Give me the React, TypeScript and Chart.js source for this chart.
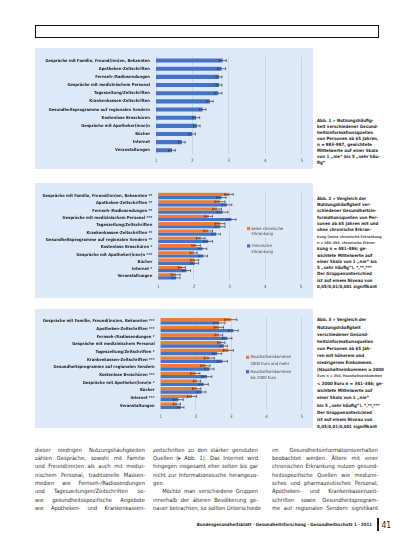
import React, { useEffect, useRef } from "react";
import { Chart, registerables } from "chart.js";

Chart.register(...registerables);

const FONT = "'Liberation Sans Narrow', 'DejaVu Sans Condensed', 'Liberation Sans', sans-serif";
const PANEL_BG = "#dde9f7";
const GRID = "#c3cfdd";
const BLUE = "#4472c4";
const ORANGE = "#ed7d31";

// ---------- data ----------
const sources = [
  "Gespräche mit Familie, Freund(inn)en, Bekannten",
  "Apotheken-Zeitschriften",
  "Fernseh-/Radiosendungen",
  "Gespräche mit medizinischem Personal",
  "Tageszeitung/Zeitschriften",
  "Krankenkassen-Zeitschriften",
  "Gesundheitsprogramme auf regionalen Sendern",
  "Kostenlose Broschüren",
  "Gespräche mit Apotheker(inne)n",
  "Bücher",
  "Internet",
  "Veranstaltungen",
];
const starsChronic = ["**", "**", "**", "***", "", "**", "**", "*", "***", "", "*", ""];
const starsIncome = ["***", "***", "*", "", "*", "***", "", "***", "*", "", "***", ""];

const xTicks = [1, 2, 3, 4, 5];

// Abb. 1 – all persons 65+
const allMean = [2.83, 2.8, 2.73, 2.73, 2.71, 2.48, 2.28, 2.1, 2.12, 1.99, 1.71, 1.44];
const allErr = [0.1, 0.11, 0.08, 0.08, 0.1, 0.09, 0.09, 0.1, 0.09, 0.09, 0.09, 0.09];

// Abb. 2 – chronic disease
const noChronicMean = [2.98, 2.73, 2.65, 2.41, 2.73, 2.4, 2.19, 2.06, 1.99, 2.02, 1.66, 1.49];
const noChronicErr = [0.12, 0.14, 0.12, 0.11, 0.14, 0.12, 0.12, 0.12, 0.1, 0.11, 0.1, 0.12];
const chronicMean = [2.77, 2.92, 2.8, 3.05, 2.74, 2.62, 2.4, 2.24, 2.26, 2.02, 1.79, 1.5];
const chronicErr = [0.13, 0.14, 0.15, 0.13, 0.13, 0.12, 0.12, 0.12, 0.12, 0.11, 0.11, 0.11];

// Abb. 3 – household income
const highIncomeMean = [2.99, 2.65, 2.65, 2.72, 2.92, 2.38, 2.27, 1.98, 2.03, 2.02, 1.89, 1.46];
const highIncomeErr = [0.17, 0.13, 0.11, 0.1, 0.14, 0.14, 0.13, 0.13, 0.1, 0.12, 0.13, 0.1];
const lowIncomeMean = [2.66, 3.06, 2.89, 2.79, 2.6, 2.75, 2.38, 2.31, 2.22, 2.16, 1.5, 1.57];
const lowIncomeErr = [0.16, 0.14, 0.13, 0.1, 0.13, 0.14, 0.13, 0.14, 0.13, 0.12, 0.14, 0.09];

const legendChronic = [
  ["keine chronische", "Erkrankung"],
  ["chronische", "Erkrankung"],
];
const legendIncome = [
  ["Haushaltseinkommen", "2000 Euro und mehr"],
  ["Haushaltseinkommen", "bis 2000 Euro"],
];

const withStars = (stars: string[]) => sources.map((s, i) => (stars[i] ? `${s} ${stars[i]}` : s));

// ---------- plugins ----------
const errorBarPlugin = {
  id: "errorBars",
  afterDatasetsDraw(chart: any, _args: any, opts: any) {
    const errs: number[][] = opts.errors || [];
    const ctx = chart.ctx;
    const xs = chart.scales.x;
    ctx.save();
    ctx.strokeStyle = "#3a3a3a";
    ctx.lineWidth = 0.7;
    chart.data.datasets.forEach((ds: any, di: number) => {
      const e = errs[di];
      if (!e) return;
      const meta = chart.getDatasetMeta(di);
      meta.data.forEach((el: any, i: number) => {
        const v = ds.data[i] as number;
        const y = el.y;
        const x1 = xs.getPixelForValue(v - e[i]);
        const x2 = xs.getPixelForValue(v + e[i]);
        const h = opts.cap / 2;
        ctx.beginPath();
        ctx.moveTo(x1, y);
        ctx.lineTo(x2, y);
        ctx.moveTo(x1, y - h);
        ctx.lineTo(x1, y + h);
        ctx.moveTo(x2, y - h);
        ctx.lineTo(x2, y + h);
        ctx.stroke();
      });
    });
    ctx.restore();
  },
};

const boxLegendPlugin = {
  id: "boxLegend",
  afterDraw(chart: any, _args: any, opts: any) {
    if (!opts || !opts.items) return;
    const ctx = chart.ctx;
    const box = 3.2;
    ctx.save();
    ctx.font = `${opts.size}px ${FONT}`;
    ctx.textBaseline = "middle";
    opts.items.forEach((lines: string[], k: number) => {
      const y0 = opts.y + k * opts.gap;
      let w = 0;
      lines.forEach((ln) => (w = Math.max(w, ctx.measureText(ln).width)));
      ctx.fillStyle = PANEL_BG;
      ctx.fillRect(opts.x - 1, y0 - 3, box + 3 + w, opts.lineH * lines.length + 1);
      ctx.fillStyle = chart.data.datasets[k].backgroundColor;
      ctx.fillRect(opts.x, y0 - box / 2, box, box);
      ctx.fillStyle = "#404040";
      lines.forEach((ln, j) => ctx.fillText(ln, opts.x + box + 1.2, y0 + j * opts.lineH));
    });
    ctx.restore();
  },
};

type PanelSpec = {
  labels: string[];
  datasets: any[];
  errors: number[][];
  W: number;
  H: number;
  areaLeft: number;
  areaRight: number;
  areaTop: number;
  areaBottom: number;
  catPct: number;
  barPct: number;
  cap: number;
  legend?: any;
};

function makeConfig(p: PanelSpec): any {
  return {
    type: "bar",
    data: { labels: p.labels, datasets: p.datasets },
    options: {
      indexAxis: "y",
      responsive: false,
      animation: false,
      layout: { padding: { left: 0, top: p.areaTop, right: p.W - p.areaRight, bottom: 0 } },
      datasets: { bar: { categoryPercentage: p.catPct, barPercentage: p.barPct } },
      scales: {
        x: {
          min: xTicks[0],
          max: xTicks[xTicks.length - 1],
          afterBuildTicks: (s: any) => {
            s.ticks = xTicks.map((v) => ({ value: v }));
          },
          ticks: { color: "#595959", font: { size: 4.6, family: FONT }, padding: 4 },
          grid: { color: GRID, lineWidth: 0.8, drawTicks: false },
          border: { display: false },
          afterFit: (s: any) => {
            s.height = p.H - p.areaBottom;
          },
        },
        y: {
          ticks: {
            color: "#1e1e1e",
            font: { size: 4.15, family: FONT, weight: "bold" },
            padding: 6,
            autoSkip: false,
          },
          grid: { display: false, drawTicks: false },
          border: { display: false },
          afterFit: (s: any) => {
            s.width = p.areaLeft;
          },
        },
      },
      plugins: {
        legend: { display: false },
        tooltip: { enabled: false },
        errorBars: { errors: p.errors, cap: p.cap },
        boxLegend: p.legend || {},
      },
    },
    plugins: [errorBarPlugin, boxLegendPlugin],
  };
}

function Panel({ spec, left, top }: { spec: PanelSpec; left: number; top: number }) {
  const ref = useRef<HTMLCanvasElement>(null);
  useEffect(() => {
    const chart = new Chart(ref.current as HTMLCanvasElement, makeConfig(spec));
    return () => chart.destroy();
  }, []);
  return (
    <canvas
      ref={ref}
      width={spec.W}
      height={spec.H}
      style={{ position: "absolute", left, top, width: spec.W, height: spec.H, background: PANEL_BG }}
    />
  );
}

const panel1: PanelSpec = {
  labels: sources,
  datasets: [{ data: allMean, backgroundColor: BLUE }],
  errors: [allErr],
  W: 278,
  H: 121,
  areaLeft: 121,
  areaRight: 266.7,
  areaTop: 7.6,
  areaBottom: 106.4,
  catPct: 1,
  barPct: 0.5,
  cap: 3,
};

const panel2: PanelSpec = {
  labels: withStars(starsChronic),
  datasets: [
    { label: "keine chronische Erkrankung", data: noChronicMean, backgroundColor: ORANGE },
    { label: "chronische Erkrankung", data: chronicMean, backgroundColor: BLUE },
  ],
  errors: [noChronicErr, chronicErr],
  W: 278,
  H: 115,
  areaLeft: 123.3,
  areaRight: 266,
  areaTop: 9.35,
  areaBottom: 97,
  catPct: 0.86,
  barPct: 1,
  cap: 2.6,
  legend: { items: legendChronic, x: 212, y: 45.5, gap: 17.4, lineH: 5.7, size: 4.2 },
};

const panel3: PanelSpec = {
  labels: withStars(starsIncome),
  datasets: [
    { label: "Haushaltseinkommen 2000 Euro und mehr", data: highIncomeMean, backgroundColor: ORANGE },
    { label: "Haushaltseinkommen bis 2000 Euro", data: lowIncomeMean, backgroundColor: BLUE },
  ],
  errors: [highIncomeErr, lowIncomeErr],
  W: 278,
  H: 119,
  areaLeft: 125.7,
  areaRight: 266.7,
  areaTop: 8.15,
  areaBottom: 100.55,
  catPct: 0.86,
  barPct: 1,
  cap: 2.8,
  legend: { items: legendIncome, x: 211, y: 48.3, gap: 14.4, lineH: 6.2, size: 4.2 },
};

// ---------- text ----------
const caption1 = [
  "Abb. 1 » Nutzungshäufig-",
  "keit verschiedener Gesund-",
  "heitsinformationsquellen",
  "von Personen ab 65 Jahren,",
  "n = 983–987, gewichtete",
  "Mittelwerte auf einer Skala",
  "von 1 „nie“ bis 5 „sehr häu-",
  "fig“",
];
const caption2 = [
  "Abb. 2 » Vergleich der",
  "Nutzungshäufigkeit ver-",
  "schiedener Gesundheitsin-",
  "formationsquellen von Per-",
  "sonen ab 65 Jahren mit und",
  "ohne chronische Erkran-",
  "kung (keine chronische Erkrankung",
  "n = 490–496, chronische Erkran-",
  "kung n = 481–486; ge-",
  "wichtete Mittelwerte auf",
  "einer Skala von 1 „nie“ bis",
  "5 „sehr häufig“). *,**,***",
  "Der Gruppenunterschied",
  "ist auf einem Niveau von",
  "0,05/0,01/0,001 signifikant",
];
const caption3 = [
  "Abb. 3 » Vergleich der",
  "Nutzungshäufigkeit",
  "verschiedener Gesund-",
  "heitsinformationsquellen",
  "von Personen ab 65 Jah-",
  "ren mit höherem und",
  "niedrigerem Einkommen.",
  "(Haushaltseinkommen ≥ 2000",
  "Euro n = 360, Haushaltseinkommen",
  "< 2000 Euro n = 341–346; ge-",
  "wichtete Mittelwerte auf",
  "einer Skala von 1 „nie“",
  "bis 5 „sehr häufig“). *,**,***",
  "Der Gruppenunterschied",
  "ist auf einem Niveau von",
  "0,05/0,01/0,001 signifikant",
];
const smallCaptionLines = [
  "kung (keine chronische Erkrankung",
  "n = 490–496, chronische Erkran-",
  "Euro n = 360, Haushaltseinkommen",
];

const body1 = [
  "dieser niedrigen Nutzungshäufigkeiten",
  "zählen Gespräche, sowohl mit Familie",
  "und Freund(inn)en als auch mit medizi-",
  "nischem Personal, traditionelle Massen-",
  "medien wie Fernseh-/Radiosendungen",
  "und Tageszeitungen/Zeitschriften so-",
  "wie gesundheitsspezifische Angebote",
  "wie Apotheken- und Krankenkassen-",
];
const body2 = [
  "zeitschriften zu den stärker genutzten",
  "Quellen (▸ Abb. 1). Das Internet wird",
  "hingegen insgesamt eher selten bis gar",
  "nicht zur Informationssuche herangezo-",
  "gen.",
  "   Möchte man verschiedene Gruppen",
  "innerhalb der älteren Bevölkerung ge-",
  "nauer betrachten, so sollten Unterschiede",
];
const body3 = [
  "im Gesundheitsinformationsverhalten",
  "beobachtet werden. Ältere mit einer",
  "chronischen Erkrankung nutzen gesund-",
  "heitsspezifische Quellen wie medizini-",
  "sches und pharmazeutisches Personal,",
  "Apotheken- und Krankenkassenzeit-",
  "schriften sowie Gesundheitsprogram-",
  "me auf regionalen Sendern signifikant",
];

function Caption({ lines, left, firstY, lh }: { lines: string[]; left: number; firstY: number; lh: number }) {
  return (
    <div style={{ position: "absolute", left, top: firstY - lh / 2, fontFamily: FONT, fontSize: 4.4, fontWeight: "bold", color: "#262626", lineHeight: `${lh}px`, whiteSpace: "nowrap" }}>
      {lines.map((l, i) => (
        <div key={i} style={smallCaptionLines.includes(l) ? { fontSize: 3.6, color: "#555" } : undefined}>
          {l}
        </div>
      ))}
    </div>
  );
}

function Column({ lines, left, width }: { lines: string[]; left: number; width: number }) {
  return (
    <div style={{ position: "absolute", left, top: 445.9, width, fontFamily: FONT, fontSize: 5.7, color: "#2e2e2e", lineHeight: "8.3px" }}>
      {lines.map((l, i) => {
        const last = l === "gen.";
        return (
          <div
            key={i}
            style={{ whiteSpace: "pre", textAlign: last ? "left" : "justify", textAlignLast: last ? "left" : "justify" } as any}
          >
            {l}
          </div>
        );
      })}
    </div>
  );
}

export default function App() {
  return (
    <div style={{ position: "absolute", left: 0, top: 0, width: 413, height: 550, background: "#fff", overflow: "hidden" }}>
      <div style={{ position: "absolute", left: 35, top: 25, width: 344, height: 12.7, border: "1.4px solid #111", boxSizing: "border-box" }} />
      <Panel spec={panel1} left={35} top={48} />
      <Panel spec={panel2} left={35} top={183} />
      <Panel spec={panel3} left={35} top={309} />
      <Caption lines={caption1} left={317} firstY={120.7} lh={6} />
      <Caption lines={caption2} left={317} firstY={199} lh={6.3} />
      <Caption lines={caption3} left={317} firstY={320} lh={7.1} />
      <Column lines={body1} left={35} width={110} />
      <Column lines={body2} left={153} width={105} />
      <Column lines={body3} left={272} width={106} />
      <div style={{ position: "absolute", left: 150, width: 222, top: 521, textAlign: "right", fontFamily: FONT, fontSize: 4.4, fontWeight: "bold", color: "#2a2a2a", whiteSpace: "nowrap", lineHeight: "8px" }}>
        Bundesgesundheitsblatt - Gesundheitsforschung - Gesundheitsschutz 1 · 2011
      </div>
      <div style={{ position: "absolute", left: 377, top: 518, width: 2.4, height: 12.5, background: "#222" }} />
      <div style={{ position: "absolute", left: 381.5, top: 519.5, fontFamily: FONT, fontSize: 8.5, color: "#222", lineHeight: "10px" }}>41</div>
    </div>
  );
}
